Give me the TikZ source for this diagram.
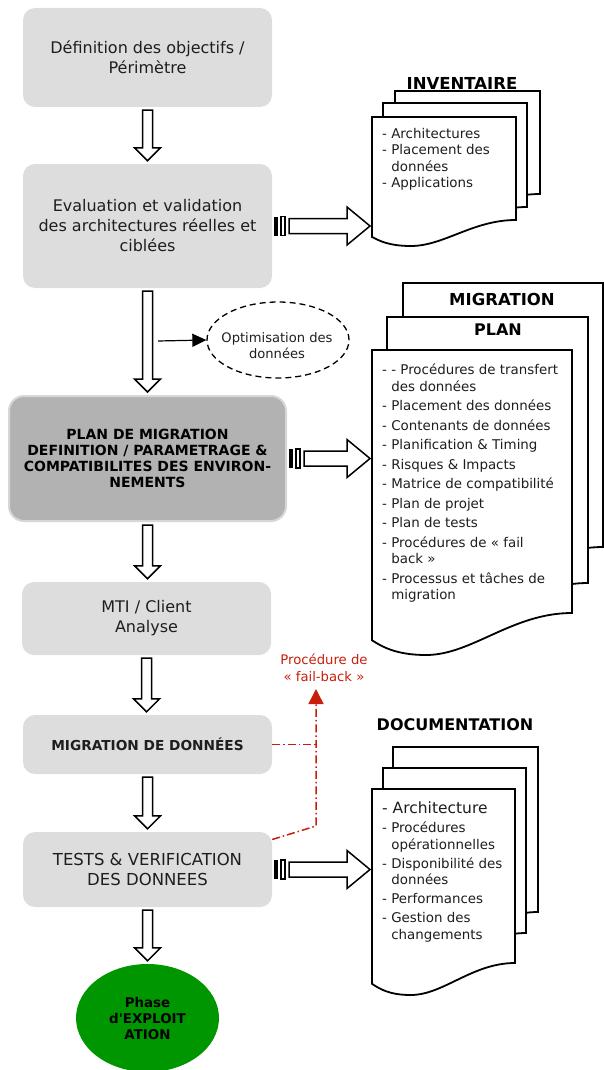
\documentclass[tikz,border=0pt]{standalone}
\usepackage{fontspec}
\setmainfont{DejaVu Sans}
\usepackage{tikz}
\usetikzlibrary{arrows.meta, calc, shapes.geometric, positioning}
\definecolor{boxgray}{RGB}{221,221,221}
\definecolor{plangray}{RGB}{178,178,178}
\definecolor{planrim}{RGB}{215,215,215}
\definecolor{phasegreen}{RGB}{0,150,0}
\definecolor{failred}{RGB}{200,30,10}
\definecolor{inkgray}{RGB}{30,30,30}
\tikzset{
>={Triangle[length=14pt,width=13pt]}, % filled arrow heads
stepbox/.style={rectangle, rounded corners=12pt, fill=boxgray, inner sep=0pt, minimum width=249pt, align=center, text=inkgray, font=\fontsize{16}{20}\selectfont},
planbox/.style={rectangle, rounded corners=15pt, fill=plangray, draw=planrim, line width=2pt, minimum width=277pt, minimum height=125pt, inner sep=0pt, align=center, font=\bfseries\fontsize{14}{16}\selectfont},
phase/.style={ellipse, fill=phasegreen, minimum width=143pt, minimum height=108pt, inner sep=0pt, align=center, font=\bfseries\fontsize{13.4}{16}\selectfont},
optim/.style={ellipse, draw, dash pattern=on 6pt off 4pt, line width=1.3pt, minimum width=142pt, minimum height=76pt, inner sep=0pt},
optimtext/.style={align=center, inner sep=0pt, text=inkgray, font=\fontsize{13.1}{16}\selectfont},
blockarrow/.style={draw=black, fill=white, line width=1.5pt, line join=miter},
docpage/.style={draw=black, fill=white, line width=1.8pt},
doctitle/.style={inner sep=0pt, font=\bfseries\fontsize{16.5}{18}\selectfont},
doclist/.style={anchor=north west, align=left, inner sep=0pt, text=inkgray, font=\fontsize{13.4}{16.5}\selectfont},
failnote/.style={align=center, inner sep=0pt, text=failred, font=\fontsize{13.2}{17}\selectfont},
failback/.style={draw=failred, line width=1.5pt, dash pattern=on 8pt off 3pt on 1.5pt off 3pt},
}
% hollow arrow going down from one step to the next
\newcommand{\hollowdown}[2]{%
  \draw[blockarrow] let \p1=(#1.south), \p2=(#2.north) in
    (\x1-5pt,\y1-3pt) -- (\x1+5pt,\y1-3pt) -- (\x1+5pt,\y2+16pt) -- (\x1+13pt,\y2+16pt)
    -- (\x1,\y2+3pt) -- (\x1-13pt,\y2+16pt) -- (\x1-5pt,\y2+16pt) -- cycle;}
% hollow arrow with two bars, from a step to its document
\newcommand{\feedarrow}[2]{%
  \fill let \p1=(#1.east) in (\x1+2pt,\y1-9.5pt) rectangle (\x1+6pt,\y1+9.5pt);
  \draw[blockarrow] let \p1=(#1.east) in (\x1+9pt,\y1-9.5pt) rectangle (\x1+13pt,\y1+9.5pt);
  \draw[blockarrow] let \p1=(#1.east), \p2=(#2) in
    (\x1+17pt,\y1-7.5pt) -- (\x2-23pt,\y1-7.5pt) -- (\x2-23pt,\y1-19pt) -- (\x2,\y1)
    -- (\x2-23pt,\y1+19pt) -- (\x2-23pt,\y1+7.5pt) -- (\x1+17pt,\y1+7.5pt) -- cycle;}
% one page of a document: left, top, right, bottom, wave
\newcommand{\docpage}[5]{%
  \draw[docpage] (#1,#2) -- (#3,#2) -- (#3,#4)
    .. controls ({#3-0.3*(#3-#1)},#4) and ({#1+0.5*(#3-#1)},{#4+#5}) .. ({#1+0.27*(#3-#1)},{#4+#5})
    .. controls ({#1+0.12*(#3-#1)},{#4+#5}) and ({#1+0.05*(#3-#1)},{#4+0.8*#5}) .. (#1,{#4+0.65*#5}) -- cycle;}
\begin{document}
\begin{tikzpicture}[x=1pt, y=-1pt]
  \useasboundingbox (0,0) rectangle (604,1070);
  % steps
  \node[stepbox, minimum height=99pt] (obj) at (147.5,57.5) {Définition des objectifs /\\Périmètre};
  \node[stepbox, minimum height=124pt] (eval) at (147.5,226) {Evaluation et validation\\des architectures réelles et\\ciblées};
  \node[planbox] (plan) at (147.5,458.5) {PLAN DE MIGRATION\\DEFINITION / PARAMETRAGE \&\\COMPATIBILITES DES ENVIRON-\\NEMENTS};
  \node[stepbox, minimum height=73pt] (mti) at (146.5,618.5) {MTI / Client\\Analyse};
  \node[stepbox, minimum height=59pt, font=\bfseries\fontsize{13.7}{16}\selectfont] (mig) at (147.5,744.5) {MIGRATION DE DONNÉES};
  \node[stepbox, minimum height=75pt, font=\fontsize{16.5}{20}\selectfont] (tests) at (147.5,869.5) {TESTS \& VERIFICATION\\DES DONNEES};
  \node[phase] (exploit) at (147.5,1018) {Phase\\d\textquotesingle EXPLOIT\\ATION};
  \node[optim] (optim) at (278,340) {};
  \node[optimtext] (optimlabel) at (277,346) {Optimisation des\\données};

  \hollowdown{obj}{eval}
  \hollowdown{eval}{plan}
  \hollowdown{plan}{mti}
  \hollowdown{mti}{mig}
  \hollowdown{mig}{tests}
  \hollowdown{tests}{exploit}

  \coordinate (optsrc) at (158,341);
  \draw[->, line width=1.2pt] (optsrc) -- (optim.west);

  % inventaire
  \docpage{395}{91}{540}{194}{26}
  \docpage{383}{103}{527}{207}{26}
  \docpage{372}{117}{516}{220}{26}
  \node[doctitle] (invtitle) at (462,83) {INVENTAIRE};
  \node[doclist] (invlist) at (382,128) {- Architectures\\- Placement des\\\hphantom{- }données\\- Applications};
  \coordinate (invin) at (370,226);
  \feedarrow{eval}{invin}

  % plan de migration
  \docpage{403}{283}{603}{547}{42}
  \docpage{387}{317}{588}{583}{42}
  \docpage{372}{350}{572}{613}{42}
  \node[doctitle] (migtitle) at (502,299) {MIGRATION};
  \node[doctitle, font=\bfseries\fontsize{16}{18}\selectfont] (plantitle) at (498,330) {PLAN};
  \node[doclist] (planlist) at (382,364) {- - Procédures de transfert\\\hphantom{- }des données\\[3pt]- Placement des données\\[3pt]- Contenants de données\\[3pt]- Planification \& Timing\\[3pt]- Risques \& Impacts\\[3pt]- Matrice de compatibilité\\[3pt]- Plan de projet\\[3pt]- Plan de tests\\[3pt]- Procédures de « fail\\\hphantom{- }back »\\[3pt]- Processus et tâches de\\\hphantom{- }migration};
  \coordinate (planin) at (370,458);
  \feedarrow{plan}{planin}

  % documentation
  \docpage{393}{747}{538}{912}{32}
  \docpage{383}{768}{526}{933}{32}
  \docpage{372}{789}{515}{963}{32}
  \node[doctitle, font=\bfseries\fontsize{16}{18}\selectfont] (doctitle) at (455,725) {DOCUMENTATION};
  \node[doclist] (doclist) at (382,802) {{\fontsize{15.5}{18}\selectfont - Architecture}\\[2.5pt]- Procédures\\\hphantom{- }opérationnelles\\[2.5pt]- Disponibilité des\\\hphantom{- }données\\[2.5pt]- Performances\\[2.5pt]- Gestion des\\\hphantom{- }changements};
  \coordinate (docin) at (370,869);
  \feedarrow{tests}{docin}

  % retour arriere
  \node[failnote] (fbnote) at (324,668) {Procédure de\\« fail-back »};
  \coordinate (fbtip) at (316,689);
  \coordinate (fbbend) at (316,826);
  \draw[failback, -{Triangle[length=15pt,width=15pt]}] ([yshift=30pt]tests.east) -- (fbbend) -- (fbtip);
  \draw[failback] (mig.east) -- (mig.east -| fbbend);
\end{tikzpicture}
\end{document}
